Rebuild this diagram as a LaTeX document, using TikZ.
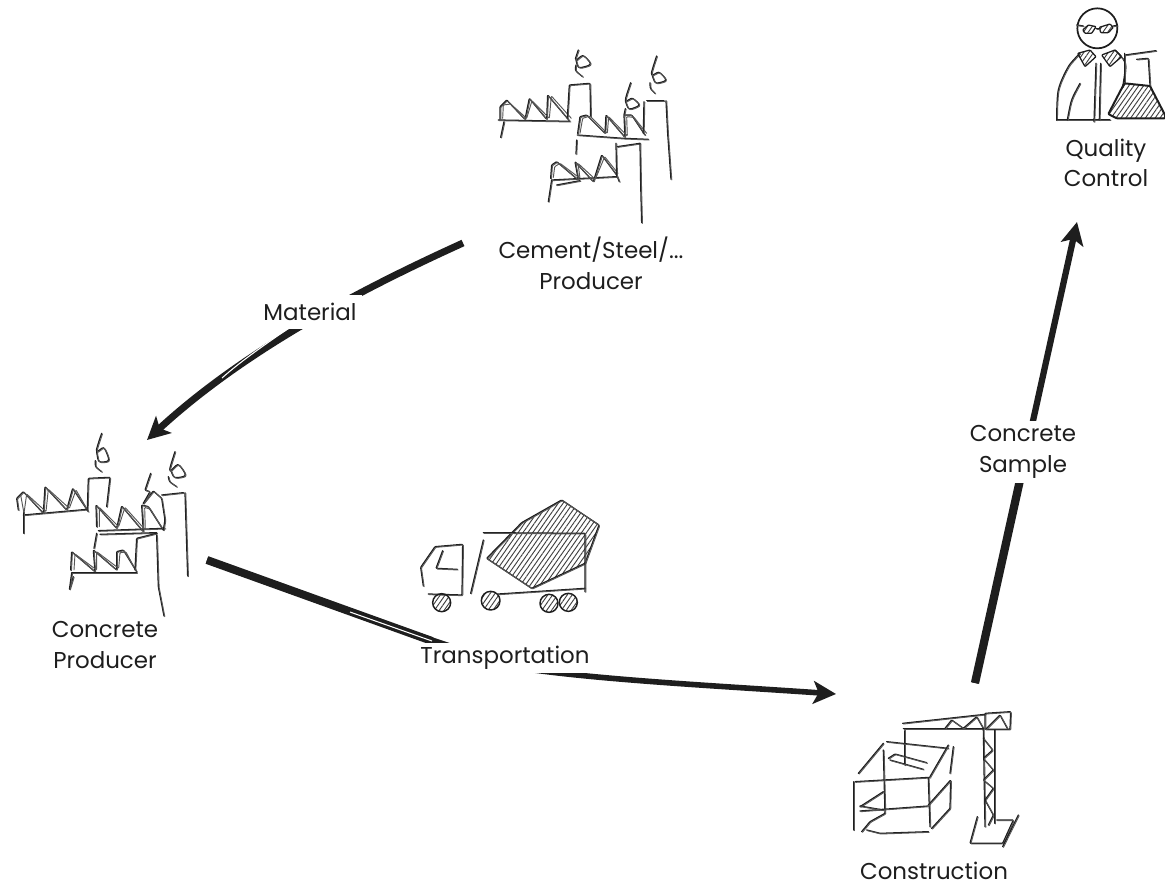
\documentclass[tikz,border=0pt]{standalone}
\usepackage{fontspec}
\setmainfont{Poppins}
\usetikzlibrary{arrows.meta,patterns.meta}
\definecolor{ink}{HTML}{1E1E1E}
\newcommand\dbl[1]{\draw[sk] #1; \draw[sktwo,xshift=.6pt,yshift=-.5pt] #1;}
\tikzset{
  sk/.style={draw=ink,line width=.95pt,line cap=round,line join=round,rounded corners=.6pt},
  sktwo/.style={draw=ink!75,line width=.7pt,line cap=round,line join=round,rounded corners=.6pt},
  zm/.style 2 args={shift={(#1,#2)},x=.25pt,y=-.25pt},
  hatch/.style={pattern={Lines[angle=55,distance=3pt,line width=.7pt]},pattern color=ink!85},
  head/.style={-{Stealth[length=17pt,width=17pt,inset=4pt]}},
  conn/.style={draw=ink,line width=#1},
  slit/.style={draw=white,line width=.8pt},
  lab/.style={align=center,text=ink,font=\fontsize{17.2}{23}\selectfont,inner sep=0pt},
  edgelab/.style={lab,fill=white}
}
\begin{document}
\begin{tikzpicture}[x=.75pt,y=-.75pt]
\useasboundingbox[fill=white] (0,0) rectangle (1165,889);
% connector ends
\coordinate (mstart) at (463,243);
\coordinate (mend) at (147,440);
\coordinate (tstart) at (207,560);
\coordinate (tbend) at (520,668);
\coordinate (tend) at (836,694);
\coordinate (sstart) at (975,683);
\coordinate (send) at (1077,222);
% Material
\draw[conn=5.2pt,head] (mstart) .. controls (375,283) and (250,345) .. (mend);
\draw[slit] (286,330) .. controls (260,348) and (240,362) .. (222,378);
% Transportation
\draw[conn=4.2pt,head] (tstart) .. controls (300,594) and (440,645) .. (tbend) .. controls (600,680) and (720,686) .. (tend);
\draw[conn=6pt] (tstart) -- (432,641);
\draw[slit] (350,612) -- (432,641);
% Concrete Sample
\draw[conn=4.7pt,head] (sstart) -- (send);
\draw[conn=6.2pt] (sstart) -- (1020,480);
% labels on connectors
\node[edgelab,minimum width=78pt,minimum height=25pt] (material) at (310,312) {Material};
\node[edgelab,minimum width=142pt,minimum height=22pt] (transport) at (505,658) {Transportation};
\node[edgelab,minimum width=84pt,minimum height=46pt] (sample) at (1023,452) {Concrete\\Sample};
% factory, cement
\begin{scope}[zm={480}{50}]
\dbl{(55,210) -- (270,214)}
\dbl{(62,262) -- (72,215)}
\dbl{(60,208) -- (60,170) -- (80,150) -- (135,208) -- (148,145) -- (200,208) -- (203,135) -- (268,212)}
\draw[sktwo] (68,205) -- (70,165) -- (92,162) -- (140,205) -- (156,152) -- (208,205) -- (214,138) -- (274,205);
\dbl{(262,205) -- (268,105) -- (330,100) -- (332,200)}
\dbl{plot[smooth] coordinates {(295,0) (288,28) (310,18) (330,42) (298,52) (288,30)}}
\dbl{plot[smooth] coordinates {(288,45) (288,62) (308,80)}}
\dbl{(292,255) -- (430,265) -- (505,268)}
\dbl{(293,250) -- (300,200) -- (320,195) -- (375,250) -- (378,195) -- (435,262) -- (432,195) -- (455,195) -- (495,255)}
\draw[sktwo] (300,250) -- (308,205) -- (330,198) -- (382,250) -- (386,200) -- (442,258) -- (440,200) -- (462,202) -- (500,250);
\dbl{(490,250) -- (492,155)}
\dbl{(500,152) -- (552,152)}
\dbl{(558,152) -- (563,250) -- (573,388)}
\dbl{plot[smooth] coordinates {(530,18) (515,72) (538,68) (556,90) (528,98) (516,74)}}
\dbl{plot[smooth] coordinates {(510,98) (512,115) (525,130)}}
\dbl{plot[smooth] coordinates {(452,98) (437,150) (458,146) (476,165) (448,176) (436,152)}}
\dbl{(436,176) -- (432,195)}
\dbl{(290,270) -- (288,312)}
\dbl{(215,390) -- (410,380)}
\dbl{(230,405) -- (300,392)}
\dbl{(215,390) -- (205,455)}
\dbl{(212,385) -- (215,345) -- (230,335) -- (295,390) -- (285,335) -- (340,395) -- (365,315) -- (410,375) -- (418,395)}
\draw[sktwo] (220,382) -- (224,350) -- (240,340) -- (300,385) -- (294,340) -- (346,388) -- (374,320) -- (414,370);
\dbl{(410,380) -- (408,280)}
\dbl{(412,290) -- (480,280)}
\dbl{(480,280) -- (482,400) -- (485,518)}
\end{scope}
% factory, concrete
\begin{scope}[zm={0}{420}]
\dbl{(70,285) -- (262,268)}
\dbl{(70,275) -- (70,340)}
\dbl{(55,270) -- (50,235) -- (70,215) -- (130,280) -- (135,200) -- (200,270) -- (218,205) -- (265,275)}
\draw[sktwo] (62,225) -- (72,280) -- (80,222) -- (138,275) -- (145,208) -- (208,265) -- (228,210) -- (260,265);
\dbl{(262,270) -- (265,175) -- (330,172) -- (320,260)}
\dbl{plot[smooth] coordinates {(305,40) (290,92) (312,85) (325,120) (298,124) (290,95)}}
\dbl{plot[smooth] coordinates {(286,122) (288,140) (305,155)}}
\dbl{(295,332) -- (495,325)}
\dbl{(300,343) -- (470,338)}
\dbl{(290,320) -- (288,255) -- (350,325) -- (365,258) -- (430,335) -- (425,255) -- (445,260) -- (490,330)}
\draw[sktwo] (298,320) -- (298,262) -- (356,320) -- (375,262) -- (436,330) -- (434,262) -- (452,268) -- (484,322);
\dbl{(430,250) -- (460,213) -- (485,235) -- (495,300) -- (490,330)}
\dbl{(485,225) -- (550,218)}
\dbl{(555,218) -- (563,468)}
\dbl{plot[smooth] coordinates {(525,95) (510,150) (535,135) (555,165) (525,172) (512,150)}}
\dbl{plot[smooth] coordinates {(505,170) (510,185) (530,200)}}
\dbl{(452,160) -- (435,210) -- (450,215) -- (430,250)}
\dbl{(290,340) -- (282,385)}
\dbl{(215,458) -- (410,458)}
\dbl{(212,450) -- (215,395) -- (285,455) -- (280,390) -- (350,450) -- (350,395) -- (370,390) -- (410,455)}
\draw[sktwo] (222,450) -- (225,402) -- (290,450) -- (290,395) -- (356,445) -- (360,398) -- (378,396) -- (404,445);
\dbl{(215,460) -- (208,510) -- (220,470)}
\dbl{(405,450) -- (410,355) -- (470,340)}
\dbl{(470,345) -- (475,500) -- (492,588)}
\end{scope}
% truck
\begin{scope}[zm={400}{480}]
\path[hatch] (260,235) -- (365,128) -- (485,60) -- (597,135) -- (555,250) -- (395,325) -- cycle;
\dbl{(260,235) -- (365,128) -- (485,60) -- (597,135) -- (555,250) -- (395,325) -- cycle}
\dbl{(70,318) -- (62,262) -- (105,200) -- (188,193) -- (186,345) -- (85,342)}
\dbl{(128,212) -- (108,265) -- (172,268)}
\foreach \cx/\cy/\r in {125/368/27,272/362/28,447/370/27,505/367/27}{
  \draw[sk,hatch,line width=1.1pt] (\cx,\cy) circle[x radius=\r*.25pt,y radius=\r*.25pt];
}
\dbl{(212,340) -- (250,180)}
\dbl{(250,158) -- (555,160) -- (555,335)}
\dbl{(295,342) -- (555,325)}
\end{scope}
% construction
\begin{scope}[zm={820}{680}]
\dbl{(248,130) -- (495,103)}
\dbl{(250,145) -- (490,145)}
\dbl{(375,145) -- (395,120) -- (430,145) -- (470,110) -- (490,145)}
\dbl{(495,100) -- (572,95) -- (570,148) -- (495,148) -- cycle}
\dbl{(500,145) -- (540,105) -- (562,145)}
\dbl{(490,145) -- (495,440)}
\dbl{(525,150) -- (525,430)}
\dbl{(490,175) -- (518,210) -- (490,235) -- (520,270) -- (490,300) -- (520,325) -- (495,360) -- (520,405) -- (505,435)}
\dbl{(472,410) -- (450,490) -- (548,490) -- (580,420) -- (530,420)}
\dbl{(595,405) -- (548,500)}
\dbl{(255,152) -- (255,255)}
\dbl{(205,235) -- (225,222) -- (320,248)}
\dbl{(210,240) -- (310,268)}
\dbl{(200,185) -- (385,205)}
\dbl{(190,190) -- (115,280)}
\dbl{(385,195) -- (330,290)}
\dbl{(400,200) -- (390,280)}
\dbl{(105,305) -- (330,292)}
\dbl{(100,305) -- (100,450)}
\dbl{(325,295) -- (330,440)}
\dbl{(190,210) -- (195,400) -- (150,425) -- (125,455)}
\dbl{(120,380) -- (190,335)}
\dbl{(120,393) -- (325,378)}
\dbl{(120,378) -- (190,390)}
\dbl{(325,375) -- (392,300) -- (390,385) -- (335,445)}
\dbl{(140,450) -- (180,460) -- (325,455)}
\end{scope}
% quality control
\begin{scope}[zm={1030}{0}]
\draw[sk,line width=1.3pt] (202,85) circle[x radius=15pt,y radius=15pt];
\draw[sk,hatch] (158,90) -- (175,75) -- (198,80) -- (185,100) -- (165,100) -- cycle;
\draw[sk,hatch] (208,82) -- (240,72) -- (250,82) -- (235,98) -- (212,98) -- cycle;
\dbl{(140,75) -- (160,78)}
\dbl{(198,85) -- (208,85)}
\dbl{(250,78) -- (262,76)}
\dbl{plot[smooth] coordinates {(80,360) (85,270) (115,200) (150,160)}}
\dbl{plot[smooth] coordinates {(255,150) (285,190) (278,260)}}
\dbl{(80,360) -- (240,360)}
\draw[sk,hatch] (143,160) -- (180,150) -- (198,170) -- (165,200) -- cycle;
\draw[sk,hatch] (255,150) -- (215,165) -- (240,200) -- (275,170) -- cycle;
\dbl{(198,190) -- (192,365)}
\dbl{(212,190) -- (208,360)}
\dbl{plot[smooth] coordinates {(150,250) (125,300) (112,360)}}
\dbl{(285,165) -- (378,152)}
\dbl{(283,160) -- (283,245)}
\dbl{(320,178) -- (355,175) -- (360,255)}
\path[hatch] (283,250) -- (360,258) -- (405,345) -- (405,355) -- (260,355) -- (235,342) -- cycle;
\draw[sk,line width=1.5pt] (283,250) -- (360,258) -- (405,345) -- (405,355) -- (260,355) -- (235,342) -- cycle;
\end{scope}
% labels
\node[lab] (cement) at (591,263) {Cement/Steel/...\\Producer};
\node[lab] (concrete) at (105,645) {Concrete\\Producer};
\node[lab] (quality) at (1106,163) {Quality\\Control};
\node[lab] (construction) at (934,871) {Construction};
\end{tikzpicture}
\end{document}
